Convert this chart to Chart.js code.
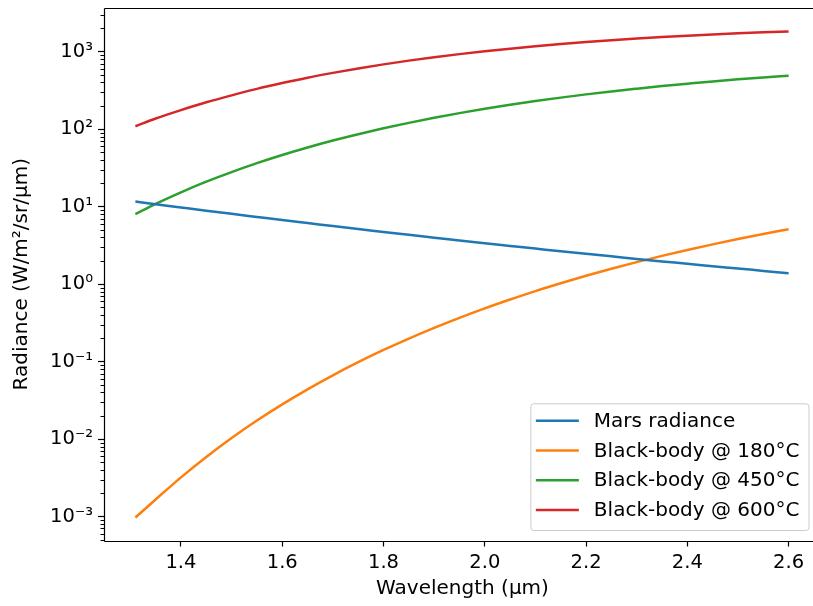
<!DOCTYPE html>
<html>
<head>
<title>Radiance</title>
<style>
  html, body { margin: 0; padding: 0; overflow: hidden; background: #fff; }
  canvas { display: block; }
</style>
</head>
<body>
<canvas id="radianceCanvas" width="813" height="606"></canvas>
<script src="https://cdn.jsdelivr.net/npm/chart.js@4/dist/chart.umd.min.js"></script>
<script>
// values (every 0.05 µm)
var WAVELENGTH = [1.31, 1.35, 1.40, 1.45, 1.50, 1.55, 1.60, 1.65, 1.70, 1.75, 1.80, 1.85, 1.90, 1.95,
                  2.00, 2.05, 2.10, 2.15, 2.20, 2.25, 2.30, 2.35, 2.40, 2.45, 2.50, 2.55, 2.60];
var MARS = [11.6, 10.7, 9.73, 8.85, 8.06, 7.35, 6.70, 6.13, 5.60, 5.13, 4.71, 4.32, 3.97, 3.65,
            3.37, 3.11, 2.87, 2.65, 2.46, 2.28, 2.11, 1.96, 1.83, 1.70, 1.59, 1.48, 1.38];
var BB_180 = [0.00097, 0.00166, 0.0032, 0.00587, 0.0103, 0.0173, 0.0280, 0.0438, 0.0664, 0.098, 0.141, 0.198, 0.2725, 0.367,
              0.486, 0.632, 0.812, 1.025, 1.278, 1.575, 1.918, 2.312, 2.756, 3.257, 3.813, 4.431, 5.11];
var BB_450 = [8.0, 10.85, 15.3, 21.0, 27.9, 36.4, 46.4, 58.0, 71.3, 86.1, 102.5, 120.5, 140, 161,
              183, 206, 230, 255, 281, 307, 333, 360, 386, 413, 439, 465, 490];
var BB_600 = [109, 137, 176, 222, 273, 331, 393, 461, 532, 607, 685, 766, 847, 929,
              1011, 1093, 1174, 1252, 1330, 1403, 1474, 1543, 1607, 1667, 1724, 1778, 1826];

var SERIES_NAMES = ['Mars radiance', 'Black-body @ 180°C', 'Black-body @ 450°C', 'Black-body @ 600°C'];
var X_TICKS = [1.4, 1.6, 1.8, 2.0, 2.2, 2.4, 2.6];
var Y_TICKS = [1e-3, 1e-2, 1e-1, 1, 10, 100, 1000];
var Y_TICK_LABELS = ['10⁻³', '10⁻²', '10⁻¹', '10⁰', '10¹', '10²', '10³'];

var COLORS = ['#1f77b4', '#ff7f0e', '#2ca02c', '#d62728'];
var FONT = 'DejaVu Sans';
var FS = 19.5;      // tick labels
var FS_TEXT = 20;   // axis titles and legend
var PLOT_RIGHT = 821;   // right spine of the original lies past the picture edge

function points(ys) {
    return WAVELENGTH.map(function(x, i) { return {x: x, y: ys[i]}; });
}

var series = [MARS, BB_180, BB_450, BB_600];
var datasets = series.map(function(ys, i) {
    return {
        label: SERIES_NAMES[i],
        data: points(ys),
        borderColor: COLORS[i],
        backgroundColor: COLORS[i],
        borderWidth: 2.5,
        pointRadius: 0,
        fill: false,
        cubicInterpolationMode: 'monotone'
    };
});

function line(ctx, x1, y1, x2, y2) {
    ctx.beginPath();
    ctx.moveTo(x1, y1);
    ctx.lineTo(x2, y2);
    ctx.stroke();
}

// stretch the plot area past the canvas so the right spine is cut off
var overhangPlugin = {
    id: 'overhang',
    afterLayout: function(chart) {
        var x = chart.scales.x;
        chart.chartArea.right = PLOT_RIGHT;
        chart.chartArea.width = PLOT_RIGHT - chart.chartArea.left;
        x.right = PLOT_RIGHT;
        x.width = PLOT_RIGHT - x.left;
        x.configure();
    }
};

// frame, minor log ticks and the boxed legend, matplotlib style
var decorPlugin = {
    id: 'decor',
    afterDraw: function(chart) {
        var ctx = chart.ctx, a = chart.chartArea, y = chart.scales.y;
        var l = Math.round(a.left) + 0.5, t = Math.round(a.top) + 0.5;
        var b = Math.round(a.bottom) + 0.5, r = Math.round(a.right) + 0.5;
        ctx.save();
        ctx.strokeStyle = '#000';
        ctx.lineWidth = 1.2;
        line(ctx, l, t, r, t);
        line(ctx, l, b, r, b);
        line(ctx, l, t, l, b);
        line(ctx, r, t, r, b);

        ctx.lineWidth = 1;
        for (var n = -4; n <= 3; n++) {
            for (var k = 2; k <= 9; k++) {
                var v = k * Math.pow(10, n);
                if (v < y.min || v > y.max) continue;
                var py = Math.round(y.getPixelForValue(v)) + 0.5;
                line(ctx, a.left - 3.5, py, a.left, py);
            }
        }

        ctx.font = FS_TEXT + 'px "' + FONT + '"';
        var textW = 0;
        chart.data.datasets.forEach(function(d) {
            textW = Math.max(textW, ctx.measureText(d.label).width);
        });
        var rowH = 29.7;
        var boxW = 63 + textW + 9.5;
        var boxH = 126.7;
        var right = a.right - 12, bottom = a.bottom - 10;
        var left = right - boxW, top = bottom - boxH;
        var rad = 3;
        ctx.beginPath();
        ctx.moveTo(left + rad, top);
        ctx.arcTo(right, top, right, bottom, rad);
        ctx.arcTo(right, bottom, left, bottom, rad);
        ctx.arcTo(left, bottom, left, top, rad);
        ctx.arcTo(left, top, right, top, rad);
        ctx.closePath();
        ctx.fillStyle = 'rgba(255,255,255,0.8)';
        ctx.fill();
        ctx.strokeStyle = '#cccccc';
        ctx.lineWidth = 1;
        ctx.stroke();

        ctx.textBaseline = 'middle';
        ctx.textAlign = 'left';
        chart.data.datasets.forEach(function(d, i) {
            var cy = top + 17 + i * rowH;
            ctx.strokeStyle = d.borderColor;
            ctx.lineWidth = 2.5;
            line(ctx, left + 5, cy, left + 48, cy);
            ctx.fillStyle = '#000';
            ctx.fillText(d.label, left + 63, cy + 1);
        });
        ctx.restore();
    }
};

Chart.defaults.font.family = FONT;
Chart.defaults.font.size = FS;
Chart.defaults.color = '#000';

new Chart(document.getElementById('radianceCanvas').getContext('2d'), {
    type: 'line',
    data: {datasets: datasets},
    options: {
        responsive: false,
        animation: false,
        layout: {padding: {top: 8, right: 0, bottom: 0, left: 0}},
        plugins: {legend: {display: false}, tooltip: {enabled: false}},
        scales: {
            x: {
                type: 'linear',
                min: 1.248,
                max: 2.664,
                border: {display: false},
                grid: {drawOnChartArea: false, drawTicks: true, tickLength: 6, tickColor: '#000', tickWidth: 1.2},
                ticks: {
                    padding: 5,
                    maxRotation: 0,
                    callback: function(v) { return v.toFixed(1); }
                },
                afterBuildTicks: function(s) {
                    s.ticks = X_TICKS.map(function(v) { return {value: v}; });
                },
                afterFit: function(s) {
                    s.height = 65.5;
                    s.paddingLeft = 0;
                    s.paddingRight = 0;
                },
                title: {display: true, text: 'Wavelength (µm)', font: {size: FS_TEXT}, padding: {top: 0, bottom: 5}}
            },
            y: {
                type: 'logarithmic',
                min: 4.9e-4,
                max: 3660,
                border: {display: false},
                grid: {drawOnChartArea: false, drawTicks: true, tickLength: 6, tickColor: '#000', tickWidth: 1.2},
                ticks: {
                    padding: 5,
                    callback: function(v) {
                        var i = Y_TICKS.indexOf(v);
                        return i < 0 ? '' : Y_TICK_LABELS[i];
                    }
                },
                afterBuildTicks: function(s) {
                    s.ticks = Y_TICKS.map(function(v) { return {value: v}; });
                },
                afterFit: function(s) {
                    s.width = 104;
                    s.paddingTop = 0;
                    s.paddingBottom = 0;
                },
                title: {display: true, text: 'Radiance (W/m²/sr/µm)', font: {size: FS_TEXT}, padding: {top: 10, bottom: 0}}
            }
        }
    },
    plugins: [overhangPlugin, decorPlugin]
});
</script>
</body>
</html>
